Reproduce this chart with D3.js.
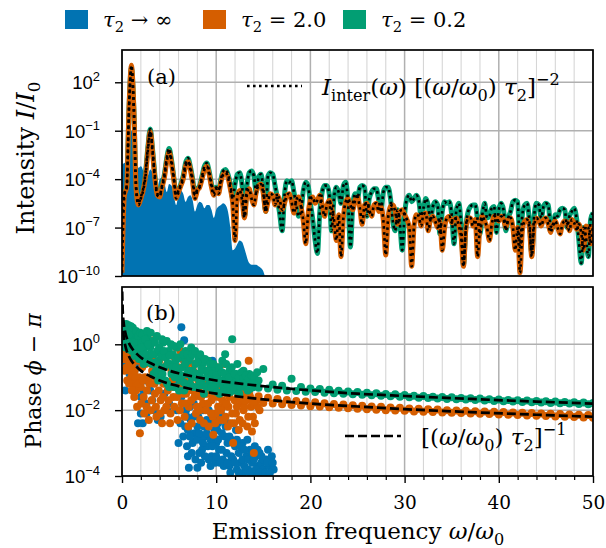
<!DOCTYPE html>
<html>
<head>
<meta charset="utf-8">
<script src="https://cdn.jsdelivr.net/npm/d3@7"></script>
<style>
    body { margin: 0; background: #fff; }
    svg { display: block; font-family: "DejaVu Serif", serif; }
</style>
</head>
<body>
<div id="chart"></div>
<script>
const [WIDTH, HEIGHT] = [606, 548]
const PLOT = { left: 122, right: 593 }
const TOP = { top: 50, bottom: 276 }
const BOT = { top: 287, bottom: 476 }
const COLORS = { inf: '#0173b2', t20: '#d55e00', t02: '#029e73' }

// ---- data (log10 where noted) ----
const seriesLabels = ['→ ∞', '= 2.0', '= 0.2']
const freqTicks = [0, 10, 20, 30, 40, 50]
const intensityTicks = [2, -1, -4, -7, -10]   // exponents
const phaseTicks = [0, -2, -4]                // exponents
const FREQ_STEP = 0.25                        // sampling of the spectra

// log10 intensity, tau2 -> inf (filled), x = 0 .. 15.25
const logIntensityInf = [
    -3.1, -3.0, -2.9, -1.8, -1.0, -1.8, -3.0, -3.3,
    -3.2, -3.5, -4.3, -3.8, -3.4, -3.6, -4.0, -4.6,
    -4.0, -3.9, -4.2, -4.8, -4.3, -4.4, -5.0, -5.6,
    -4.9, -4.7, -4.9, -5.4, -5.1, -5.0, -5.3, -6.0,
    -5.6, -5.4, -5.5, -5.8, -5.6, -5.6, -5.9, -6.4,
    -5.9, -5.7, -5.6, -5.5, -5.6, -6.0, -7.0, -8.4,
    -8.3, -8.0, -7.8, -7.9, -8.3, -8.8, -9.2, -9.3,
    -9.3, -9.3, -9.4, -9.5, -9.7, -10.2,
]

// log10 intensity, tau2 = 2.0, x = 0 .. 50
const logIntensity20 = [
    -9.8, -5.0, -4.5, 0.5, 3.05, 0.5, -4.6, -5.6,
    -5.2, -4.7, -3.8, -2.2, -1.05, -2.4, -4.0, -5.0,
    -5.1, -4.5, -3.9, -2.9, -2.3, -3.0, -4.0, -5.2,
    -4.8, -4.4, -4.0, -3.2, -2.9, -3.4, -4.2, -5.2,
    -4.7, -4.5, -4.0, -3.4, -3.2, -3.7, -4.5, -5.0,
    -4.6, -4.9, -4.2, -3.7, -3.6, -3.9, -4.6, -5.5,
    -7.8, -5.0, -4.7, -5.3, -6.4, -5.0, -4.6, -5.2,
    -5.6, -4.8, -4.4, -4.3, -4.9, -6.0, -5.4, -4.9,
    -5.0, -5.6, -5.0, -5.3, -5.9, -5.5, -5.0, -4.9,
    -5.4, -6.1, -5.3, -5.1, -5.7, -6.6, -8.0, -6.2,
    -5.3, -5.1, -5.5, -5.3, -5.0, -5.6, -6.3, -5.6,
    -5.3, -5.8, -6.5, -7.8, -6.2, -8.8, -6.4, -5.4,
    -5.2, -5.6, -5.9, -5.3, -5.1, -5.8, -6.8, -5.6,
    -5.5, -5.9, -6.3, -5.6, -5.5, -6.0, -5.7, -6.6,
    -8.7, -6.4, -5.7, -5.6, -6.0, -6.8, -6.0, -5.9,
    -6.2, -6.5, -7.0, -9.4, -6.9, -6.2, -6.3, -6.9,
    -6.2, -6.1, -7.2, -6.5, -6.3, -6.6, -7.0, -6.6,
    -8.4, -7.0, -6.4, -6.3, -6.7, -6.5, -6.4, -6.9,
    -7.6, -9.4, -7.1, -6.4, -6.4, -6.9, -6.5, -8.8,
    -6.9, -6.3, -6.6, -7.0, -7.8, -6.8, -6.3, -6.4,
    -6.6, -6.3, -6.5, -7.0, -6.5, -6.4, -7.0, -8.4,
    -7.0, -9.8, -7.2, -6.6, -6.5, -7.0, -8.8, -6.9,
    -6.4, -6.6, -6.9, -6.5, -6.4, -6.8, -7.3, -6.8,
    -6.6, -7.0, -7.4, -6.8, -6.6, -6.7, -7.2, -6.5,
    -6.7, -7.1, -6.8, -7.3, -8.4, -6.9, -7.0, -8.0,
    -6.8,
]

// log10 intensity, tau2 = 0.2, x = 0 .. 50
const logIntensity02 = [
    -6.0, -4.9, -4.4, 0.4, 2.9, 0.4, -4.5, -5.5,
    -5.1, -4.6, -3.6, -2.0, -0.9, -2.2, -3.8, -4.9,
    -5.0, -4.4, -3.7, -2.7, -2.1, -2.8, -3.9, -5.0,
    -4.7, -4.3, -3.8, -3.0, -2.7, -3.2, -4.0, -5.0,
    -4.6, -4.4, -3.8, -3.2, -3.0, -3.5, -4.3, -4.8,
    -4.5, -4.7, -4.0, -3.5, -3.4, -3.7, -4.3, -5.2,
    -4.3, -3.7, -3.6, -4.4, -6.3, -4.5, -3.6, -3.5,
    -3.8, -4.8, -3.9, -3.7, -4.6, -6.0, -3.8, -3.6,
    -3.7, -4.4, -5.2, -6.2, -7.2, -5.0, -4.1, -4.2,
    -4.1, -4.8, -5.6, -6.3, -6.0, -4.7, -4.2, -4.4,
    -5.5, -6.5, -7.8, -8.6, -6.0, -4.8, -4.4, -4.4,
    -4.9, -7.2, -5.2, -4.5, -4.8, -5.5, -4.4, -4.2,
    -5.5, -8.2, -5.6, -4.9, -5.2, -4.5, -4.4, -4.5,
    -6.3, -5.2, -4.8, -4.6, -4.6, -5.3, -5.9, -4.8,
    -4.5, -4.5, -5.2, -6.6, -7.2, -5.9, -6.8, -8.4,
    -6.2, -5.2, -5.0, -5.4, -5.2, -5.0, -5.3, -6.3,
    -5.8, -5.2, -5.6, -6.6, -5.7, -5.4, -5.6, -7.4,
    -6.0, -5.4, -5.5, -5.4, -6.2, -8.0, -5.9, -5.5,
    -6.8, -9.3, -7.0, -6.0, -5.7, -5.6, -5.6, -6.5,
    -7.4, -6.2, -5.5, -6.4, -6.3, -5.8, -5.7, -7.3,
    -5.9, -5.5, -5.9, -7.2, -6.4, -6.0, -5.4, -5.3,
    -5.4, -8.2, -6.2, -5.6, -5.5, -6.6, -8.6, -6.3,
    -5.5, -5.6, -6.4, -5.7, -5.5, -5.6, -6.9, -7.0,
    -6.2, -6.3, -5.9, -5.8, -5.9, -7.0, -6.3, -6.0,
    -5.8, -6.4, -7.8, -9.2, -7.0, -7.6, -8.8, -6.5,
    -6.1,
]

// phase scatter [freq, log10(phase - pi)]
const phaseInf = [
    [0.35, -1.4], [0.5, -0.6], [0.6, -0.3], [0.8, -0.9], [1.0, -0.5], [1.2, -1.0], [1.5, -1.2], [1.7, -2.4], [1.8, -0.7], [2.0, -1.6],
    [2.0, -2.1], [2.2, -2.4], [2.4, -1.1], [2.6, -1.8], [2.6, -2.1], [3.0, -1.4], [3.4, -2.0], [4.1, -2.2], [4.5, -1.5], [5.0, -1.8],
    [5.5, -1.2], [6.3, 0.52], [6.6, 0.12], [6.4, -0.45], [6.6, -1.0], [6.8, -2.0], [7.0, -2.6], [7.1, -3.75], [7.3, -2.3], [7.5, -3.0],
    [7.7, -2.7], [8.0, -3.75], [8.1, -2.2], [8.3, -2.9], [8.5, -3.2], [8.7, -2.5], [8.9, -1.9], [9.1, -3.1], [9.3, -2.4], [9.5, -3.4],
    [9.6, -0.5], [9.7, -2.8], [9.9, -3.6], [10.1, -2.6], [10.3, -3.2], [10.5, -2.1], [10.7, -3.5], [10.9, -2.8], [11.1, -3.3], [11.2, -3.0],
    [11.3, -2.4], [11.4, -3.7], [11.5, -3.9], [11.6, -2.9], [11.8, -3.5], [12.0, -3.1], [12.1, -2.6], [12.2, -3.8], [12.4, -3.3], [12.6, -3.6],
    [12.8, -3.0], [12.9, -3.9], [13.0, -3.7], [13.2, -3.4], [13.3, -2.9], [13.4, -3.8], [13.6, -3.2], [13.8, -3.6], [14.0, -3.9], [14.1, -3.1],
    [14.2, -3.4], [14.4, -3.7], [14.6, -3.3], [14.8, -3.6], [15.0, -3.8], [15.3, -3.5], [15.5, -3.2], [15.6, -3.7], [15.9, -3.4], [16.1, -3.8],
    [6.2, -2.4], [6.5, -2.8], [6.9, -3.1], [7.2, -1.9], [7.6, -2.2], [7.9, -2.9], [8.2, -3.3], [8.6, -2.0], [8.8, -2.8], [9.0, -2.3],
    [9.2, -3.5], [9.4, -2.9], [9.8, -2.2], [10.0, -3.0], [10.2, -2.4], [10.4, -3.6], [10.6, -2.7],
    [1.3, -0.8], [2.3, -1.4], [3.2, -1.7], [3.8, -2.3], [4.8, -2.0], [5.8, -2.0], [6.0, -3.0], [6.3, -1.6], [6.7, -2.5], [6.9, -2.2],
    [7.0, -3.4], [7.2, -2.8], [7.4, -3.3], [7.6, -1.8], [7.8, -3.5], [8.0, -2.5], [8.2, -2.7], [8.4, -3.6], [8.6, -3.0], [8.8, -3.4],
    [9.0, -2.7], [9.2, -2.0], [9.4, -3.7], [9.6, -3.1], [9.8, -2.6], [10.0, -3.4], [10.2, -2.9], [10.4, -2.3], [10.6, -3.2], [10.8, -3.7],
    [11.0, -2.5], [11.2, -3.6], [11.4, -2.8], [11.6, -3.4], [11.8, -3.0], [12.0, -3.6], [12.2, -2.9], [12.4, -3.9], [12.6, -3.1], [12.8, -3.5],
    [13.0, -3.2], [13.2, -3.8], [13.4, -3.5], [13.6, -3.9], [13.8, -3.3], [14.0, -3.5], [14.2, -3.8], [14.4, -3.2], [14.6, -3.9], [14.8, -3.4],
    [15.0, -3.5], [15.2, -3.9], [15.4, -3.6], [15.7, -3.9], [16.0, -3.6],
]

const phase20Low = [
    [0.15, 0.2], [0.2, -0.15], [0.3, -0.45], [0.35, 0.05], [0.45, -0.3], [0.5, -0.7], [0.6, -0.2], [0.7, -0.5], [0.8, -0.8], [0.9, -0.35],
    [1.0, -1.0], [1.1, -0.6], [1.2, -1.2], [1.35, -0.8], [1.5, -1.4], [1.65, -0.5], [1.8, -1.0], [1.9, -2.7], [2.0, -1.3], [2.15, -0.7],
    [2.3, -1.6], [2.45, -1.0], [2.6, -1.9], [2.75, -0.4], [2.9, -1.2], [3.05, -2.0], [3.2, -0.8], [3.4, 0.12], [3.5, -1.5], [3.65, -2.2],
    [3.8, -1.0], [3.95, -0.5], [4.1, -1.7], [4.25, -2.4], [4.4, -1.2], [4.55, -0.7], [4.7, -1.9], [4.85, -1.4], [5.0, -0.3], [5.15, -2.1],
    [5.3, -1.1], [5.45, -1.6], [5.6, -0.4], [5.75, -0.1], [5.9, -2.3], [6.05, -1.3], [6.2, -0.2], [6.35, -1.8], [6.5, -1.0], [6.65, -2.2],
    [6.8, -1.5], [6.95, -0.6], [7.1, -1.9], [7.25, -1.2], [7.4, -2.4], [7.55, -0.8], [7.7, -1.6], [7.85, -2.1], [8.0, -0.9], [8.15, -1.4],
    [8.3, -2.3], [8.45, -0.5], [8.6, -1.8], [8.75, -1.1], [8.9, -2.0], [9.05, -1.5], [9.2, -2.5], [9.35, -0.9], [9.5, -1.7], [9.65, -2.2],
    [9.7, -2.75], [9.8, -1.2], [9.95, -2.1], [10.1, -0.7], [10.25, -1.6], [10.4, -2.3], [10.55, -1.4], [10.7, -1.9], [10.85, -0.6], [11.0, -2.2],
    [11.15, -1.5], [11.3, -1.9], [11.45, -1.2], [11.6, -2.4], [11.8, -3.0], [11.95, -1.7], [12.1, -2.1], [12.3, -1.6], [12.5, -2.3], [12.7, -1.8],
    [12.9, -2.0], [13.1, -1.5], [13.3, -2.5], [13.45, -0.5], [13.7, -1.9], [13.8, -2.65], [13.9, -2.2], [14.0, -3.3], [14.3, -1.7], [14.6, -2.0],
    [0.1, -0.3], [0.25, -0.8], [0.4, 0.0], [0.55, -1.1], [0.65, -0.4], [0.75, -1.2], [0.85, -0.15], [0.95, -0.7], [1.05, -1.4], [1.15, -0.3],
    [1.3, -1.6], [1.45, -1.0], [1.6, -1.9], [1.75, -1.2], [1.85, -0.4], [2.05, -1.8], [2.2, -1.1], [2.35, -2.1], [2.5, -0.6], [2.65, -1.4],
    [2.85, -2.3], [3.0, -1.0], [3.15, -1.7], [3.3, -0.5], [3.45, -1.2], [3.6, -1.9], [3.75, -0.7], [3.9, -1.4], [4.05, -2.1], [4.2, -0.9],
    [4.35, -1.6], [4.5, -2.0], [4.65, -1.2], [4.8, -0.6], [4.95, -1.7], [5.1, -2.4], [5.25, -0.8], [5.4, -1.3], [5.55, -1.9], [5.7, -1.0],
    [5.85, -1.6], [6.0, -0.7], [6.15, -2.0], [6.3, -1.1], [6.45, -1.5], [6.6, -0.5], [6.75, -1.8], [6.9, -1.2], [7.05, -2.5], [7.2, -1.0],
    [7.35, -1.7], [7.5, -1.4], [7.65, -0.6], [7.8, -1.5], [7.95, -1.9], [8.1, -1.1], [8.25, -2.0], [8.4, -1.6], [8.55, -1.2], [8.7, -2.4],
    [8.85, -1.5], [9.0, -0.8], [9.15, -1.8], [9.3, -1.3], [9.45, -2.1], [9.6, -1.1], [9.75, -1.6], [9.9, -2.4], [10.05, -1.3], [10.2, -1.9],
    [10.35, -1.1], [10.5, -2.0], [10.65, -1.7], [10.8, -2.3], [10.95, -1.3], [11.1, -1.8], [11.25, -2.5], [11.4, -1.6], [11.55, -1.4], [11.7, -2.1],
    [11.9, -2.4], [12.05, -1.4], [12.2, -1.9], [12.4, -2.6], [12.6, -1.7], [12.8, -2.4], [13.0, -1.9], [13.2, -1.7], [13.4, -2.2], [13.6, -1.6],
    [13.85, -1.8], [14.1, -2.4], [14.4, -1.9],
]

const phase02Low = [
    [0.15, 0.45], [0.2, 0.3], [0.25, 0.6], [0.3, 0.1], [0.35, 0.55], [0.4, 0.35], [0.45, 0.62], [0.5, 0.2], [0.55, 0.5], [0.6, 0.0],
    [0.65, 0.4], [0.7, 0.58], [0.8, 0.25], [0.9, 0.45], [1.0, 0.1], [1.1, 0.35], [1.2, -0.15], [1.3, 0.2], [1.45, 0.0], [1.6, 0.3],
    [1.7, -0.25], [1.85, 0.1], [2.0, -0.35], [2.1, 0.05], [2.25, -0.2], [2.4, -0.5], [2.55, -0.05], [2.7, 0.2], [2.85, -0.4], [3.0, -0.1],
    [3.15, -0.6], [3.3, 0.1], [3.45, -0.3], [3.6, -0.8], [3.75, -0.2], [3.9, -0.5], [4.05, -1.0], [4.2, -0.35], [4.35, 0.05], [4.5, -0.7],
    [4.65, -0.4], [4.8, -1.2], [4.95, -0.2], [5.1, -0.6], [5.25, -0.9], [5.4, -0.3], [5.55, -1.3], [5.7, -0.5], [5.85, -0.1], [6.0, -0.8],
    [6.15, -1.1], [6.3, -0.4], [6.45, -0.7], [6.6, -1.4], [6.75, -0.2], [6.9, -0.9], [7.05, -0.5], [7.2, -1.2], [7.35, -0.1], [7.5, -0.8],
    [7.65, -1.0], [7.8, -0.6], [7.95, -1.3], [8.1, -0.4], [8.25, -0.9], [8.4, -1.1], [8.55, -0.6], [8.7, -1.5], [8.85, -0.8], [9.0, -1.0],
    [9.15, -0.5], [9.3, -1.2], [9.45, -0.8], [9.6, -1.4], [9.75, -1.0], [9.9, -0.7], [10.05, -1.2], [10.2, -0.9], [10.35, -1.5], [10.5, -1.1],
    [10.65, -0.5], [10.8, -1.3], [10.95, -0.3], [11.1, -1.0], [11.25, -1.4], [11.4, -0.8], [11.55, -1.2], [11.7, 0.15], [11.85, -1.1], [12.0, -1.4],
    [12.15, -0.9], [12.3, -1.3], [12.45, -1.5], [12.6, -1.0], [12.75, -1.2], [12.9, -0.8], [13.05, -1.3], [13.2, -1.1], [13.35, -1.4], [13.5, -0.9],
    [13.65, -1.2], [13.8, -1.0], [13.95, -1.3],
    [0.1, 0.6], [0.2, 0.05], [0.3, 0.45], [0.4, -0.1], [0.5, 0.35], [0.6, 0.55], [0.7, -0.15], [0.75, 0.3], [0.85, 0.05], [0.95, 0.55],
    [1.05, -0.2], [1.15, 0.5], [1.25, 0.05], [1.35, -0.35], [1.5, 0.4], [1.55, -0.15], [1.75, 0.25], [1.8, -0.45], [1.95, 0.35], [2.05, -0.1],
    [2.2, 0.3], [2.3, -0.6], [2.45, 0.15], [2.6, -0.3], [2.65, 0.4], [2.8, 0.0], [2.95, -0.55], [3.05, 0.35], [3.2, -0.3], [3.35, -0.9],
    [3.5, 0.05], [3.55, -0.55], [3.7, 0.25], [3.85, -1.1], [3.95, -0.1], [4.1, -0.7], [4.25, 0.15], [4.3, -0.9], [4.45, -0.2], [4.6, -1.1],
    [4.75, 0.1], [4.85, -0.6], [5.0, -1.3], [5.05, -0.35], [5.2, 0.0], [5.35, -0.7], [5.5, -0.05], [5.6, -1.0], [5.75, -0.7], [5.95, -0.4],
    [6.05, -1.4], [6.2, 0.0], [6.35, -0.95], [6.5, -0.3], [6.55, -1.15], [6.7, -0.6], [6.85, -1.3], [6.95, -0.3], [7.1, -0.8], [7.25, -0.4],
    [7.4, -1.0], [7.45, -0.3], [7.6, -1.3], [7.75, -0.2], [7.9, -0.9], [8.0, -0.55], [8.2, -1.1], [8.3, -0.3], [8.45, -0.75], [8.6, -1.25],
    [8.8, -0.45], [8.95, -1.3], [9.05, -0.8], [9.2, -1.05], [9.35, -0.6], [9.5, -1.3], [9.55, -0.9], [9.7, -0.6], [9.85, -1.3], [10.0, -0.95],
    [10.1, -1.45], [10.3, -0.7], [10.45, -1.2], [10.6, -0.85], [10.75, -1.45], [10.9, -0.9], [11.05, -0.6], [11.2, -1.2], [11.35, -1.0], [11.5, -1.45],
    [11.65, -0.7], [11.8, -1.3], [11.95, -0.9], [12.1, -1.15], [12.25, -0.6], [12.4, -1.0], [12.55, -1.3], [12.7, -0.85], [12.85, -1.05], [13.0, -1.2],
    [13.15, -0.95], [13.3, -1.25], [13.45, -1.05], [13.6, -1.35], [13.75, -0.95], [13.9, -1.15], [14.05, -1.0], [14.2, -1.25], [14.35, -0.85], [14.5, -1.1],
]

// dense phase bands at higher frequency, one value every 0.5
const BAND_STEP = 0.5
const band20Start = 12.5
const logPhaseBand20 = [
    -1.45, -1.70, -1.52, -1.75, -1.58, -1.78, -1.62, -1.80, -1.66, -1.82,
    -1.69, -1.84, -1.72, -1.86, -1.74, -1.88, -1.76, -1.89, -1.79, -1.91,
    -1.81, -1.93, -1.83, -1.94, -1.85, -1.96, -1.87, -1.97, -1.89, -1.99,
    -1.90, -2.00, -1.92, -2.01, -1.93, -2.02, -1.95, -2.04, -1.96, -2.05,
    -1.97, -2.06, -1.98, -2.07, -2.00, -2.08, -2.01, -2.09, -2.02, -2.10,
    -2.03, -2.11, -2.04, -2.12, -2.05, -2.13, -2.06, -2.14, -2.07, -2.15,
    -2.08, -2.16, -2.09, -2.17, -2.10, -2.18, -2.11, -2.19, -2.12, -2.20,
    -2.13, -2.21, -2.14, -2.22, -2.15, -2.23,
]
const band02Start = 14
const logPhaseBand02 = [
    -1.20, -1.32, -0.75, -1.34, -1.22, -1.38, -1.26, -1.40, -1.05, -1.42,
    -1.30, -1.44, -1.34, -1.45, -1.36, -1.47, -1.38, -1.49, -1.41, -1.50,
    -1.43, -1.52, -1.45, -1.53, -1.47, -1.55, -1.49, -1.56, -1.51, -1.58,
    -1.52, -1.59, -1.54, -1.61, -1.56, -1.62, -1.57, -1.63, -1.59, -1.65,
    -1.60, -1.66, -1.61, -1.67, -1.63, -1.68, -1.64, -1.69, -1.65, -1.71,
    -1.67, -1.72, -1.68, -1.73, -1.69, -1.74, -1.70, -1.75, -1.71, -1.76,
    -1.72, -1.77, -1.73, -1.78, -1.74, -1.79, -1.75, -1.80, -1.76, -1.81,
    -1.77, -1.82, -1.78,
]

// dashed reference curves [(w/w0) tau2]^-1
const refFreq = [0.02, 0.05, 0.1, 0.2, 0.35, 0.5, 0.75, 1, 1.5, 2, 3, 4, 6, 8, 10, 13, 16, 20, 25, 30, 37, 44, 50]
const logRef02 = [1.6, 1.2, 0.9, 0.6, 0.36, 0.2, 0.03, -0.1, -0.27, -0.4, -0.57, -0.7, -0.88, -1.0, -1.1, -1.21, -1.3, -1.4, -1.5, -1.57, -1.66, -1.74, -1.8]
const logRef20 = [1.2, 0.8, 0.5, 0.2, -0.04, -0.2, -0.37, -0.5, -0.67, -0.8, -0.97, -1.1, -1.27, -1.4, -1.5, -1.61, -1.7, -1.8, -1.89, -1.97, -2.06, -2.14, -2.2]

// ---- drawing ----
const x = d3.scaleLinear([0, 50], [PLOT.left, PLOT.right])
const yTop = d3.scaleLog([1e-10, 1e4], [TOP.bottom, TOP.top])
const yBot = d3.scaleLog([1e-4, 10 ** 1.74], [BOT.bottom, BOT.top])

const svg = d3.select('#chart').append('svg')
    .attr('width', WIDTH)
    .attr('height', HEIGHT)
    .attr('viewBox', [0, 0, WIDTH, HEIGHT])

// text with italic / sub / sup pieces
function mathText(parent, parts, fs) {
    const text = parent.append('text').attr('font-size', fs).attr('fill', '#000')
    let cur = 0
    for (const [s, kind] of parts) {
        const span = text.append('tspan').text(s)
        const target = kind === 'sub' ? 0.24 * fs : kind === 'sup' ? -0.45 * fs : 0
        if (target !== cur) span.attr('dy', target - cur)
        cur = target
        if (kind === 'sub' || kind === 'sup') span.attr('font-size', fs * 0.7)
        if (kind === 'i') span.attr('font-style', 'italic')
    }
    return text
}

function addClip(id, top, bottom) {
    svg.append('clipPath').attr('id', id)
        .append('rect')
        .attr('x', PLOT.left).attr('y', top)
        .attr('width', PLOT.right - PLOT.left).attr('height', bottom - top)
}

function drawGrid(y, ticks, top, bottom) {
    const g = svg.append('g')
    const minor = d3.range(0, 51, 2).filter(v => v % 10 !== 0)
    g.selectAll('.minor').data(minor).join('line')
        .attr('x1', d => x(d)).attr('x2', d => x(d))
        .attr('y1', top).attr('y2', bottom)
        .attr('stroke', '#d6d6d6').attr('stroke-width', 1.1)
    g.selectAll('.major').data(freqTicks).join('line')
        .attr('x1', d => x(d)).attr('x2', d => x(d))
        .attr('y1', top).attr('y2', bottom)
        .attr('stroke', '#b0b0b0').attr('stroke-width', 1.5)
    g.selectAll('.hline').data(ticks).join('line')
        .attr('x1', PLOT.left).attr('x2', PLOT.right)
        .attr('y1', d => y(10 ** d)).attr('y2', d => y(10 ** d))
        .attr('stroke', '#b0b0b0').attr('stroke-width', 1.5)
}

function drawYAxis(y, ticks) {
    const axis = d3.axisLeft(y).tickValues(ticks.map(e => 10 ** e)).tickSize(7).tickFormat('')
    const g = svg.append('g')
        .attr('transform', `translate(${PLOT.left},0)`)
        .call(axis)
    g.select('.domain').remove()
    g.selectAll('.tick line').attr('stroke', '#000').attr('stroke-width', 1.4)
    g.selectAll('.tick').each(function (d) {
        const e = Math.round(Math.log10(d))
        mathText(d3.select(this), [['10', 'r'], [String(e).replace('-', '−'), 'sup']], 18.5)
            .attr('x', -22).attr('dy', '0.36em').attr('text-anchor', 'end')
    })
}

function drawFrame(top, bottom) {
    svg.append('rect')
        .attr('x', PLOT.left).attr('y', top)
        .attr('width', PLOT.right - PLOT.left).attr('height', bottom - top)
        .attr('fill', 'none').attr('stroke', '#000').attr('stroke-width', 1.7)
}

function main() {
    addClip('clip-top', TOP.top, TOP.bottom)
    addClip('clip-bot', BOT.top, BOT.bottom)

    // ---------- panel (a) ----------
    drawGrid(yTop, intensityTicks, TOP.top, TOP.bottom)
    const topG = svg.append('g').attr('clip-path', 'url(#clip-top)')
    const toPts = arr => arr.map((v, i) => ({ f: i * FREQ_STEP, v: 10 ** v }))

    const area = d3.area()
        .x(d => x(d.f)).y0(TOP.bottom).y1(d => yTop(d.v))
        .curve(d3.curveMonotoneX)
    topG.append('path')
        .datum(toPts(logIntensityInf))
        .attr('d', area)
        .attr('fill', COLORS.inf)

    const line = d3.line().x(d => x(d.f)).y(d => yTop(d.v)).curve(d3.curveMonotoneX)
    const spectra = [[logIntensity02, COLORS.t02], [logIntensity20, COLORS.t20]]
    spectra.forEach(([arr, color]) => {
        topG.append('path').datum(toPts(arr)).attr('d', line)
            .attr('fill', 'none').attr('stroke', color)
            .attr('stroke-width', 5).attr('stroke-linejoin', 'round')
    })
    spectra.forEach(([arr]) => {
        topG.append('path').datum(toPts(arr)).attr('d', line)
            .attr('fill', 'none').attr('stroke', '#000')
            .attr('stroke-width', 2.6).attr('stroke-dasharray', '2.6 3.4')
    })
    drawYAxis(yTop, intensityTicks)
    drawFrame(TOP.top, TOP.bottom)

    mathText(svg, [['(a)', 'r']], 21).attr('x', 147).attr('y', 84)
    svg.append('line')
        .attr('x1', 247).attr('x2', 302).attr('y1', 86).attr('y2', 86)
        .attr('stroke', '#000').attr('stroke-width', 2.6).attr('stroke-dasharray', '2.6 3.4')
    mathText(svg, [
        ['I', 'i'], ['inter', 'sub'], ['(', 'r'], ['ω', 'i'], [') [(', 'r'], ['ω', 'i'], ['/', 'r'],
        ['ω', 'i'], ['0', 'sub'], [') ', 'r'], ['τ', 'i'], ['2', 'sub'], [']', 'r'], ['−2', 'sup'],
    ], 23).attr('x', 322).attr('y', 95)

    svg.append('g').call(g => mathText(g, [['Intensity ', 'r'], ['I', 'i'], ['/', 'r'], ['I', 'i'], ['0', 'sub']], 24)
        .attr('text-anchor', 'middle')
        .attr('transform', 'translate(34,158) rotate(-90)'))

    // ---------- panel (b) ----------
    drawGrid(yBot, phaseTicks, BOT.top, BOT.bottom)
    const botG = svg.append('g').attr('clip-path', 'url(#clip-bot)')
    const band = (start, arr) => arr.map((v, i) => [start + i * BAND_STEP, v])
    const scatter = [
        [phaseInf, COLORS.inf],
        [phase20Low.concat(band(band20Start, logPhaseBand20)), COLORS.t20],
        [phase02Low.concat(band(band02Start, logPhaseBand02)), COLORS.t02],
    ]
    scatter.forEach(([pts, color]) => {
        botG.append('g').selectAll('circle')
            .data(pts)
            .join('circle')
            .attr('cx', d => x(d[0]))
            .attr('cy', d => yBot(10 ** d[1]))
            .attr('r', 4)
            .attr('fill', color)
    })
    const refLine = d3.line()
        .x((d, i) => x(refFreq[i]))
        .y(d => yBot(10 ** d))
        .curve(d3.curveMonotoneX)
    ;[logRef02, logRef20].forEach(arr => {
        botG.append('path').datum(arr).attr('d', refLine)
            .attr('fill', 'none').attr('stroke', '#000')
            .attr('stroke-width', 2.7).attr('stroke-dasharray', '9 4')
    })
    drawYAxis(yBot, phaseTicks)

    const xMinor = d3.range(0, 51, 2).filter(v => v % 10 !== 0)
    svg.append('g')
        .attr('transform', `translate(0,${BOT.bottom})`)
        .call(d3.axisBottom(x).tickValues(xMinor).tickSize(4).tickFormat(''))
        .call(g => g.select('.domain').remove())
        .call(g => g.selectAll('.tick line').attr('stroke', '#000').attr('stroke-width', 1.2))
    svg.append('g')
        .attr('transform', `translate(0,${BOT.bottom})`)
        .call(d3.axisBottom(x).tickValues(freqTicks).tickSize(7).tickFormat(d3.format('d')))
        .call(g => g.select('.domain').remove())
        .call(g => g.selectAll('.tick line').attr('stroke', '#000').attr('stroke-width', 1.4))
        .call(g => g.selectAll('.tick text')
            .attr('y', 20).attr('font-size', 18.5).attr('fill', '#000')
            .attr('font-family', '"DejaVu Serif", serif'))
    drawFrame(BOT.top, BOT.bottom)

    mathText(svg, [['(b)', 'r']], 21).attr('x', 146).attr('y', 320)
    svg.append('line')
        .attr('x1', 345).attr('x2', 401).attr('y1', 436).attr('y2', 436)
        .attr('stroke', '#000').attr('stroke-width', 2.7).attr('stroke-dasharray', '9 4')
    mathText(svg, [
        ['[(', 'r'], ['ω', 'i'], ['/', 'r'], ['ω', 'i'], ['0', 'sub'], [') ', 'r'],
        ['τ', 'i'], ['2', 'sub'], [']', 'r'], ['−1', 'sup'],
    ], 23).attr('x', 421).attr('y', 445)

    svg.append('g').call(g => mathText(g, [['Phase ', 'r'], ['ϕ', 'i'], [' − ', 'r'], ['π', 'i']], 22)
        .attr('text-anchor', 'middle')
        .attr('transform', 'translate(41,381) rotate(-90)'))

    mathText(svg, [['Emission frequency ', 'r'], ['ω', 'i'], ['/', 'r'], ['ω', 'i'], ['0', 'sub']], 23)
        .attr('text-anchor', 'middle').attr('x', 358).attr('y', 539)

    // ---------- legend ----------
    const legendX = [65, 203, 343]
    const legendColors = [COLORS.inf, COLORS.t20, COLORS.t02]
    const legend = svg.append('g')
    legend.selectAll('rect').data(legendX).join('rect')
        .attr('x', d => d).attr('y', 10).attr('width', 23).attr('height', 19)
        .attr('fill', (d, i) => legendColors[i])
    legendX.forEach((lx, i) => {
        mathText(legend, [['τ', 'i'], ['2', 'sub'], [' ' + seriesLabels[i], 'r']], 21)
            .attr('x', lx + 38).attr('y', 27)
    })
}

main()
</script>
</body>
</html>
